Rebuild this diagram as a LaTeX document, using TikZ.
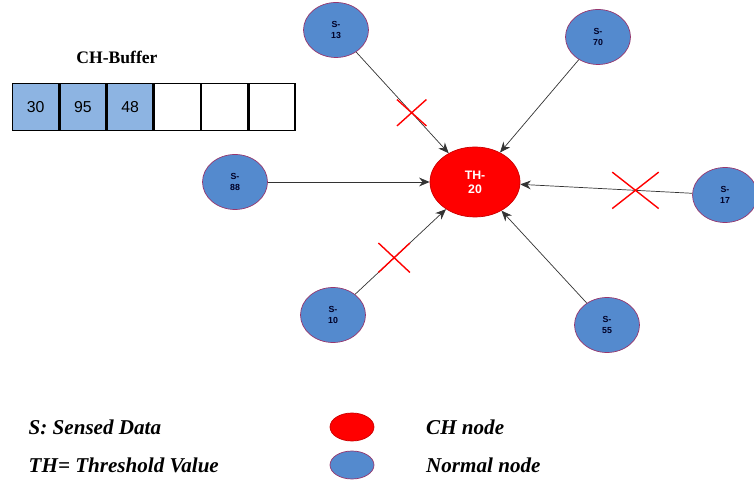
\documentclass[tikz,border=0pt]{standalone}
\usepackage{fontspec}
\setmainfont{Liberation Serif}
\setsansfont{Liberation Sans}
\usetikzlibrary{shapes.geometric,shapes.misc,arrows.meta}

\definecolor{nodeblue}{RGB}{84,138,206}
\definecolor{nodeline}{RGB}{150,55,110}
\definecolor{cellblue}{RGB}{141,180,226}

\tikzset{
  sensor/.style={ellipse, fill=nodeblue, draw=nodeline, thin, minimum width=1.3cm, minimum height=1.1cm, inner sep=0pt, align=center, font=\sffamily\bfseries\tiny, text=black!85!blue},
  head/.style={ellipse, fill=red, draw=red!80!black, thin, minimum width=1.8cm, minimum height=1.4cm, inner sep=0pt, align=center, font=\sffamily\bfseries\scriptsize, text=white},
  cell/.style={draw, thick, minimum width=0.917cm, minimum height=0.94cm, inner sep=0pt, font=\sffamily\small},
  link/.style={draw=black!80, -{Stealth[length=6pt,width=5pt]}},
  blocked/.style={cross out, draw=red, thick, inner sep=0pt},
  legend/.style={font=\large\bfseries\itshape, anchor=west}
}

\begin{document}
\begin{tikzpicture}
\useasboundingbox (0,0) rectangle (15.08,-9.74);

% cluster head and its members
\node [head] (th) at (9.5,-3.64) {TH-\\20};
\node [sensor] (s1) at (6.72,-0.6) {S-\\13};
\node [sensor] (s2) at (11.96,-0.74) {S-\\70};
\node [sensor] (s3) at (4.7,-3.64) {S-\\88};
\node [sensor] (s4) at (14.5,-3.9) {S-\\17};
\node [sensor] (s5) at (6.66,-6.3) {S-\\10};
\node [sensor] (s6) at (12.14,-6.5) {S-\\55};

% data sent to the head, some of it dropped
\draw [link] (s1) -- node[blocked, pos=0.6, minimum width=0.56cm, minimum height=0.5cm] {} (th);
\draw [link] (s2) -- (th);
\draw [link] (s3) -- (th);
\draw [link] (s4) -- node[blocked, pos=0.33, minimum width=0.9cm, minimum height=0.7cm] {} (th);
\draw [link] (s5) -- node[blocked, pos=0.43, minimum width=0.6cm, minimum height=0.56cm] {} (th);
\draw [link] (s6) -- (th);

% buffer of the cluster head
\node [font=\bfseries] (buf) at (2.34,-1.14) {CH-Buffer};
\node [cell, fill=cellblue, anchor=north west] (c1) at (0.24,-1.66) {30};
\node [cell, fill=cellblue, right=0pt] (c2) at (c1.east) {95};
\node [cell, fill=cellblue, right=0pt] (c3) at (c2.east) {48};
\node [cell, right=0pt] (c4) at (c3.east) {};
\node [cell, right=0pt] (c5) at (c4.east) {};
\node [cell, right=0pt] (c6) at (c5.east) {};

% legend
\node [legend] (l1) at (0.45,-8.54) {S: Sensed Data};
\node [legend] (l2) at (0.45,-9.3) {TH= Threshold Value};
\node [head, minimum width=0.88cm, minimum height=0.56cm] (k1) at (7.04,-8.54) {};
\node [sensor, minimum width=0.88cm, minimum height=0.56cm] (k2) at (7.04,-9.3) {};
\node [legend] (l3) at (8.4,-8.54) {CH node};
\node [legend] (l4) at (8.4,-9.3) {Normal node};
\end{tikzpicture}
\end{document}
